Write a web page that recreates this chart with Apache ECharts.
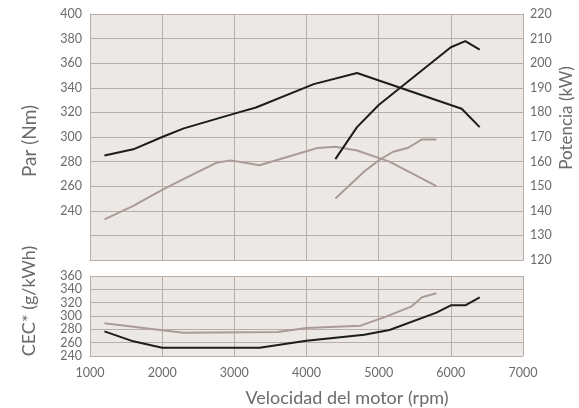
<!DOCTYPE html>
<html><head><meta charset="utf-8">
<script src="https://cdn.jsdelivr.net/npm/echarts@6/dist/echarts.min.js"></script>
<style>html,body{margin:0;padding:0;background:#fff}#c{width:579px;height:408px}</style>
</head><body><div id="c"></div>
<script>
// rpm, value pairs
const torqueBlack = [[1200,285],[1600,290],[2000,300],[2300,307],[3000,319],[3300,324],[4100,343],[4700,352],[6150,323],[6400,308]];
const torqueGray = [[1200,233],[1600,244],[2000,257],[2300,266],[2750,279],[2950,281],[3350,277],[4150,291],[4400,292],[4700,289],[5150,280],[5800,260]];
const powerBlack = [[4400,161],[4700,174],[5000,183],[6000,206.5],[6200,209],[6400,205.5]];
const powerGray = [[4400,145],[4800,156],[5000,160.5],[5200,164],[5400,165.5],[5600,169],[5800,169]];
const cecGray = [[1200,289],[2000,278.5],[2300,275],[3600,276],[4000,282],[4750,285.5],[5100,299],[5450,314],[5600,328],[5800,334]];
const cecBlack = [[1200,277],[1600,262],[2000,252.5],[3350,252.5],[4000,263],[4800,272],[5150,279],[5800,305],[6000,316],[6200,316],[6400,328]];
const xTitle = 'Velocidad del motor (rpm)';
const torqueTitle = 'Par (Nm)';
const powerTitle = 'Potencia (kW)';
const cecTitle = 'CEC* (g/kWh)';

const GRID = '#b8ada7', TXT = '#6b6b6b', BLK = '#1c1c1c', GRY = '#a99c96';
const FONT = 'Lato';
const chart = echarts.init(document.getElementById('c'));
const lbl = {color: TXT, fontFamily: FONT, fontSize: 12.5};
const split = {show: true, lineStyle: {color: GRID, width: 1}};
const axLine = {show: true, lineStyle: {color: GRID, width: 1}};
function line(data, color, xi, yi) {
  return {type: 'line', data, xAxisIndex: xi, yAxisIndex: yi, symbol: 'none', silent: true,
    lineStyle: {color, width: 2}};
}
chart.setOption({
  animation: false,
  grid: [
    {left: 90, right: 56, top: 14, height: 246, show: true, backgroundColor: '#ece8e5', borderWidth: 0},
    {left: 90, right: 56, top: 276, height: 80, show: true, backgroundColor: '#ece8e5', borderWidth: 0}
  ],
  xAxis: [
    {type: 'value', gridIndex: 0, min: 1000, max: 7000, interval: 1000, axisLabel: {show: false},
      axisTick: {show: false}, axisLine: axLine, splitLine: split},
    {type: 'value', gridIndex: 1, min: 1000, max: 7000, interval: 1000,
      axisLabel: Object.assign({margin: 10, formatter: v => String(v)}, lbl), axisTick: {show: false}, axisLine: axLine, splitLine: split}
  ],
  yAxis: [
    {type: 'value', gridIndex: 0, min: 200, max: 400, interval: 20,
      axisLabel: Object.assign({margin: 8, formatter: v => v >= 240 ? String(v) : ''}, lbl),
      axisTick: {show: false}, axisLine: axLine, splitLine: split},
    {type: 'value', gridIndex: 0, position: 'right', min: 120, max: 220, interval: 10,
      axisLabel: Object.assign({margin: 7}, lbl), axisTick: {show: false}, axisLine: axLine, splitLine: {show: false}},
    {type: 'value', gridIndex: 1, min: 240, max: 360, interval: 20,
      axisLabel: Object.assign({margin: 8}, lbl), axisTick: {show: false}, axisLine: axLine, splitLine: split}
  ],
  series: [
    line(torqueGray, GRY, 0, 0),
    line(powerGray, GRY, 0, 1),
    line(torqueBlack, BLK, 0, 0),
    line(powerBlack, BLK, 0, 1),
    line(cecGray, GRY, 1, 2),
    line(cecBlack, BLK, 1, 2)
  ],
  graphic: [
    {type: 'text', x: 30, y: 141, rotation: Math.PI/2, style: {text: torqueTitle, fill: TXT, font: '19px ' + FONT, align: 'center', verticalAlign: 'middle'}},
    {type: 'text', x: 567, y: 118, rotation: Math.PI/2, style: {text: powerTitle, fill: TXT, font: '17px ' + FONT, align: 'center', verticalAlign: 'middle'}},
    {type: 'text', x: 29, y: 301, rotation: Math.PI/2, style: {text: cecTitle, fill: TXT, font: '18px ' + FONT, align: 'center', verticalAlign: 'middle'}},
    {type: 'text', x: 347, y: 398, style: {text: xTitle, fill: TXT, font: '18px ' + FONT, align: 'center', verticalAlign: 'middle'}}
  ]
});
</script></body></html>
